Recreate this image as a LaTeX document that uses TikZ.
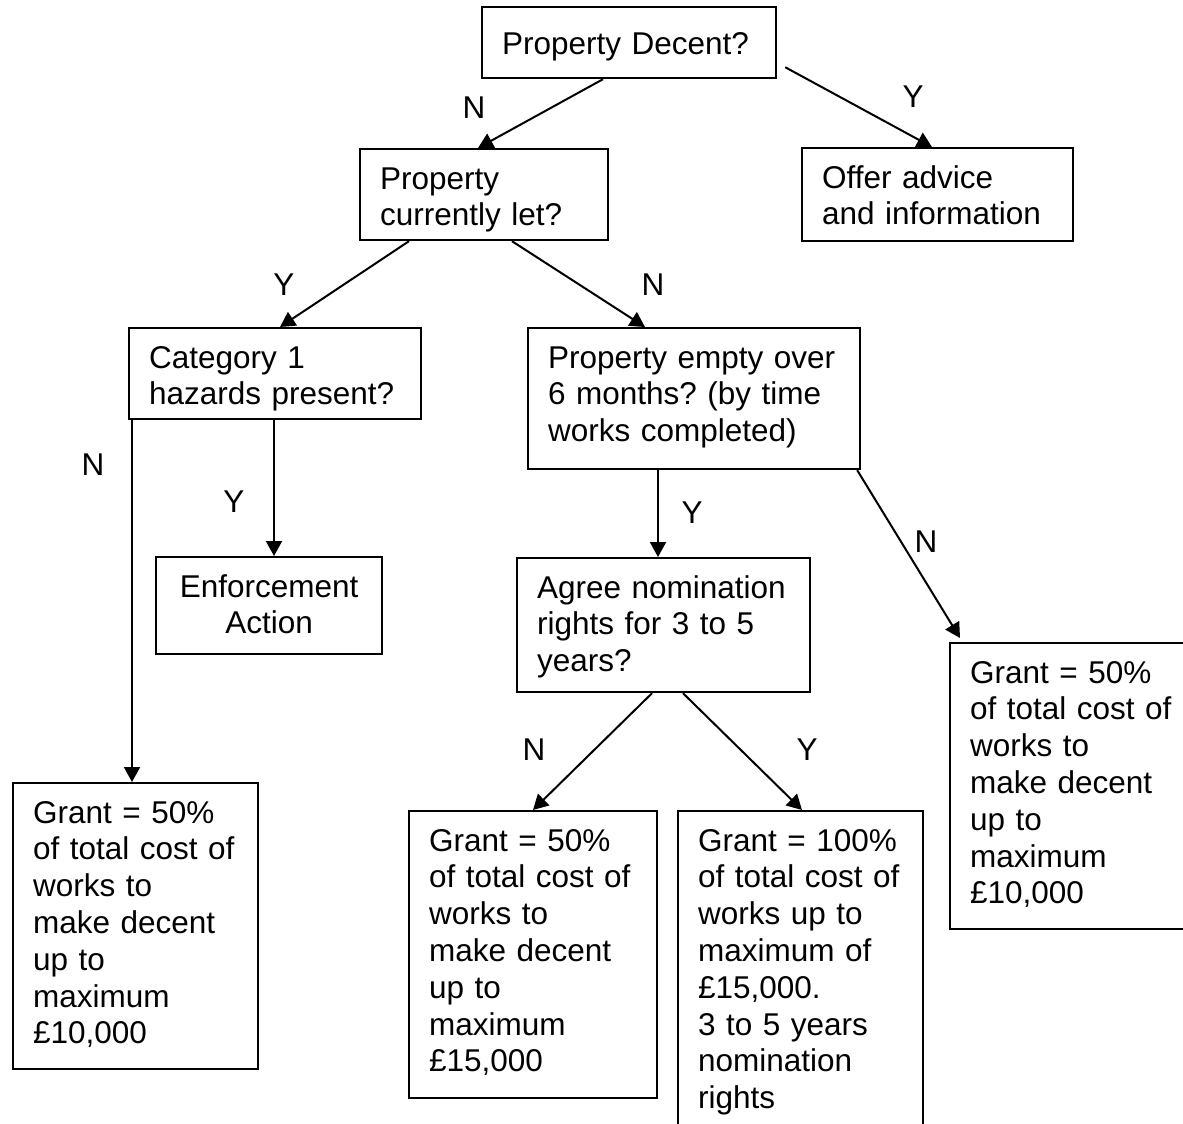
\documentclass[tikz,border=0pt]{standalone}
\usepackage{fontspec}
\setmainfont{Liberation Sans}
\usetikzlibrary{arrows.meta,calc}
\frenchspacing
\begin{document}
\begin{tikzpicture}[x=1pt,y=-1pt,
  txt/.style={font=\fontsize{31.5}{36.8}\selectfont\frenchspacing},
  box/.style={txt,draw,line width=2.2pt,anchor=north west,align=left,
    inner xsep=20pt,inner ysep=0pt,text height=40pt},
  arr/.style={line width=2pt,-{Triangle[length=15pt,width=16pt]}},
  lbl/.style={txt,inner sep=0pt}]
\path[use as bounding box,clip] (0,0) rectangle (1183,1124);
\fill[white] (0,0) rectangle (1183,1124);
% boxes
\node[box,text width=254pt,text height=47pt,text depth=24pt] (pd) at (481,6) {Property Decent?};
\node[box,text width=208pt,text depth=51pt] (pcl) at (359,148) {Property\\currently let?};
\node[box,text width=231pt,text depth=53pt] (offer) at (801,147) {Offer advice\\and information};
\node[box,text width=252pt,text depth=51pt] (cat) at (128,327) {Category 1\\hazards present?};
\node[box,text width=292pt,text depth=101pt] (empty) at (527,327) {Property empty over\\6 months? (by time\\works completed)};
\node[box,align=center,text width=186pt,text depth=57pt] (enf) at (155,556) {Enforcement\\Action};
\node[box,text width=253pt,text depth=94pt] (agree) at (516,557) {Agree nomination\\rights for 3 to 5\\years?};
\node[box,text width=205pt,text depth=246pt] (gl) at (12,782) {Grant = 50\%\\of total cost of\\works to\\make decent\\up to\\maximum\\£10,000};
\node[box,text width=208pt,text depth=247pt] (gm) at (408,810) {Grant = 50\%\\of total cost of\\works to\\make decent\\up to\\maximum\\£15,000};
\node[box,text width=205pt,text depth=320pt] (ghun) at (677,810) {Grant = 100\%\\of total cost of\\works up to\\maximum of\\£15,000.\\3 to 5 years\\nomination\\rights};
\node[box,text width=220pt,text depth=246pt] (gr) at (949,642) {Grant = 50\%\\of total cost of\\works to\\make decent\\up to\\maximum\\£10,000};
% connectors
\draw[arr] ($(pd.south west)+(122,0)$) -- ($(pcl.north west)+(119,0)$);
\draw[arr] ($(pd.south east)+(8,-12)$) -- ($(offer.north west)+(131,0)$);
\draw[arr] ($(pcl.south west)+(50,0)$) -- ($(cat.north west)+(152,0)$);
\draw[arr] ($(pcl.south west)+(153,0)$) -- ($(empty.north west)+(118,0)$);
\draw[arr] ($(cat.south west)+(146,0)$) -- ($(enf.north west)+(119,0)$);
\draw[arr] ($(cat.south west)+(4,0)$) -- ($(gl.north west)+(120,0)$);
\draw[arr] ($(empty.south west)+(131,0)$) -- ($(agree.north west)+(142,0)$);
\draw[arr] ($(empty.south east)+(-4,0)$) -- ($(gr.north west)+(11,-4)$);
\draw[arr] ($(agree.south west)+(136,0)$) -- ($(gm.north west)+(125,0)$);
\draw[arr] ($(agree.south west)+(167,0)$) -- ($(ghun.north west)+(125,0)$);
% labels
\node[lbl] (l1) at (474,108) {N};
\node[lbl] (l2) at (913,97) {Y};
\node[lbl] (l3) at (284,285) {Y};
\node[lbl] (l4) at (653,285) {N};
\node[lbl] (l5) at (93,465) {N};
\node[lbl] (l6) at (234,502) {Y};
\node[lbl] (l7) at (692,513) {Y};
\node[lbl] (l8) at (926,542) {N};
\node[lbl] (l9) at (534,750) {N};
\node[lbl] (l10) at (807,750) {Y};
\end{tikzpicture}
\end{document}
